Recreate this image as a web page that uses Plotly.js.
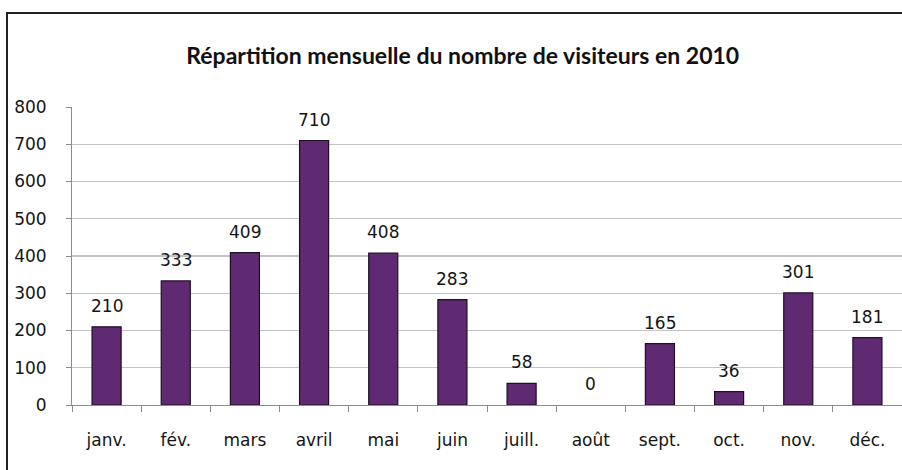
<!DOCTYPE html>
<html>
<head>
<meta charset="utf-8">
<script src="https://cdn.plot.ly/plotly-3.0.1.min.js"></script>
<style>
html,body{margin:0;padding:0;background:#fff;overflow:hidden;width:902px;height:470px;}
#wrap{position:relative;width:902px;height:470px;overflow:hidden;}
#chart{width:902px;height:470px;}
#frame{position:absolute;left:6px;top:12px;width:1200px;height:1000px;border:2.5px solid #222;box-sizing:border-box;pointer-events:none;}
</style>
</head>
<body>
<div id="wrap">
<div id="chart"></div>
<div id="frame"></div>
</div>
<script>
const months = ["janv.", "fév.", "mars", "avril", "mai", "juin", "juill.", "août", "sept.", "oct.", "nov.", "déc."];
const visitors = [210, 333, 409, 710, 408, 283, 58, 0, 165, 36, 301, 181];
const yTicks = [0, 100, 200, 300, 400, 500, 600, 700, 800];
const gridTicks = [100, 200, 300, 400, 500, 600, 700];
const chartTitle = "Répartition mensuelle du nombre de visiteurs en 2010";

const labelFont = {family: "DejaVu Sans", size: 17, color: "#151515"};

const trace = {
  type: "bar",
  x: months,
  y: visitors,
  marker: {
    color: "#5f2a72",
    line: {color: "#1e0f24", width: visitors.map(v => v > 0 ? 1.2 : 0)}
  },
  hoverinfo: "x+y"
};

const annotations = months.map((m, i) => ({
  x: m, y: visitors[i], xref: "x", yref: "y",
  text: String(visitors[i]), showarrow: false,
  yanchor: "bottom", yshift: 9, font: labelFont
}));

const layout = {
  width: 902, height: 470,
  margin: {l: 72, r: 0, t: 107, b: 65, pad: 0},
  paper_bgcolor: "#fff", plot_bgcolor: "#fff",
  title: {
    text: "<b>" + chartTitle + "</b>",
    font: {family: "Lato", size: 23, color: "#111"},
    x: 0.513, xref: "container", xanchor: "center",
    y: 1 - 56/470, yref: "container", yanchor: "middle"
  },
  showlegend: false,
  bargap: 0.58,
  xaxis: {
    type: "category",
    range: [-0.5, 11.5],
    showline: true, linecolor: "#8c8c8c", linewidth: 1,
    ticks: "outside", tickson: "boundaries", ticklen: 6, tickcolor: "#8c8c8c",
    tickfont: labelFont, ticklabelstandoff: 20,
    showgrid: false, zeroline: false, fixedrange: true
  },
  yaxis: {
    range: [0, 800],
    tickvals: yTicks,
    ticktext: yTicks.map(String),
    showline: true, linecolor: "#8c8c8c", linewidth: 1,
    ticks: "outside", ticklen: 5, tickcolor: "#8c8c8c",
    tickfont: labelFont, ticklabelstandoff: 16,
    showgrid: false, zeroline: false,
    minor: {tickvals: gridTicks, showgrid: true, gridcolor: "#c4c4c4", gridwidth: 1.3, ticks: ""},
    fixedrange: true
  },
  annotations: annotations
};

Plotly.newPlot("chart", [trace], layout, {displayModeBar: false, staticPlot: true});
</script>
</body>
</html>
